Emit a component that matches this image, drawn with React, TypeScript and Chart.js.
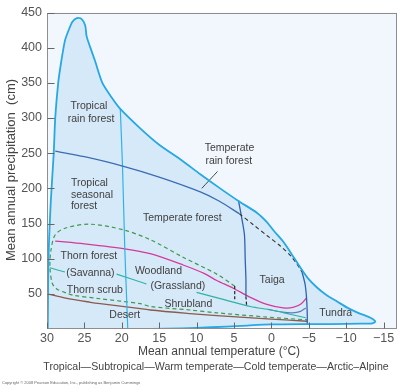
import React, { useEffect, useRef } from "react";
import { Chart, registerables } from "chart.js";

Chart.register(...registerables);

// ---------- axis ticks ----------
const xTickValues = [30, 25, 20, 15, 10, 5, 0, -5, -10, -15];
const yTickValues = [50, 100, 150, 200, 250, 300, 350, 400, 450];

// ---------- outer biome boundary (temperature °C, precipitation cm) ----------
const boundaryT = [29.9, 29.8, 29.5, 29.1, 28.9, 28.5, 28.1, 27.6, 27.1, 26.6, 26.0, 25.4, 24.9, 24.7, 24.2, 23.6, 22.6, 21.4, 20.2, 17.5, 15.0, 12.0, 9.5, 7.0, 4.4, 1.9, 0.6, -0.3, -1.6, -2.5, -3.9, -4.9, -6.1, -7.4, -8.8, -10.2, -11.6, -12.8, -13.6, -13.9, -13.5, -12.0, -8.0, -4.0, 0.0, 4.0, 8.0, 12.0, 16.0];
const boundaryP = [0, 100, 180, 250, 300, 350, 380, 410, 425, 437, 442, 441, 432, 416, 400, 382, 350, 330, 313, 285, 262, 240, 220, 201, 182, 165, 152, 140, 124, 110, 87, 72, 59, 48, 39, 30, 23, 18, 14, 10.5, 8, 7.5, 7, 7, 6.5, 4.5, 2.5, 1, 0];

// tropical rain forest / seasonal forest / temperate rain forest divide
const rainDivideT = [28.9, 25, 20, 15, 9.5, 7, 4.3];
const rainDivideP = [253, 245, 232, 216, 195, 182, 164];
// dashed continuation to taiga edge
const rainDashT = [4.3, 2.5, 0.6, -1.2, -2.5, -3.5, -4.1];
const rainDashP = [164, 149, 133, 118, 105, 91, 81];
// taiga / tundra divide
const taigaEdgeT = [-4.1, -4.5, -4.7, -4.8, -4.8];
const taigaEdgeP = [81, 64, 45, 22, 6];
// temperate forest / taiga divide
const taigaWestT = [4.4, 4.0, 3.6, 3.5, 3.4, 3.4];
const taigaWestP = [183, 160, 134, 100, 70, 46];
const taigaDashT = [3.4, 3.3];
const taigaDashP = [46, 32];
const woodDashT = [4.9, 4.9];
const woodDashP = [61, 40];
// tropical / subtropical divide
const tropicDivT = [20.2, 19.9, 19.6, 19.2];
const tropicDivP = [313, 230, 115, 0];
// forest / woodland (magenta)
const magentaT = [28.9, 25, 19.6, 16.2, 11.8, 9, 7.3, 5.1, 2.8, 0.6, -1.6, -3.0, -4.0, -4.7];
const magentaP = [125, 121, 114, 107, 91, 79, 69, 58, 45, 35, 30, 31, 36, 44];
// savanna / grassland envelope (green dashed)
const greenT = [4.9, 7.3, 11.8, 16.2, 19.8, 24.2, 27.4, 28.9, 29.5, 29.6, 29.3, 28.7, 27.4, 26.5, 22.9, 17.5, 16.2, 10.9, 7.3, 0.6, -4.8];
const greenP = [61, 78, 102, 127, 141, 149, 144, 134, 110, 87, 65, 57, 51, 48, 43, 36, 32, 27, 23, 17, 13];
// desert edge (brown)
const brownT = [30, 27.5, 24.2, 22.9, 17.5, 16.2, 10.9, 7.3, 0, -4.8];
const brownP = [50, 44, 38, 36, 29, 27, 22, 19, 14, 11];
// teal lines
const savannaLeadT = [29.6, 27.6];
const savannaLeadP = [87, 81];
const grassLeadT = [20.7, 16.7];
const grassLeadP = [78, 64];
const shrubEdgeT = [10, 6.2, 2.8, 0, -2.5, -4.6];
const shrubEdgeP = [52, 41.5, 32, 27, 21, 16];
// slate curve
const slateT = [0.5, -1.5, -2.8, -3.9, -4.6];
const slateP = [28, 24, 23, 25, 30];
// leader to temperate rain forest
const trfLeadT = [9.3, 7.2];
const trfLeadP = [200, 224];

// ---------- biome names ----------
const biomeNames = ["Tropical", "rain forest", "Tropical", "seasonal", "forest", "Temperate", "rain forest", "Temperate forest", "Thorn forest", "(Savanna)", "Thorn scrub", "Woodland", "(Grassland)", "Shrubland", "Desert", "Taiga", "Tundra"];
const biomeNameT = [24.4, 24.1, 26.8, 26.8, 26.8, 5.6, 5.7, 11.9, 24.4, 24.2, 23.6, 15.1, 12.5, 11.1, 19.6, -0.1, -8.6];
const biomeNameP = [317, 299, 208, 190, 175, 257, 239, 158, 103, 80, 56, 82, 61.5, 36, 19.6, 70, 22];
const biomeNameAlign = ["center", "center", "left", "left", "left", "center", "center", "center", "center", "center", "center", "center", "center", "center", "center", "center", "center"];

const FONT = '"Liberation Sans", Arial, Helvetica, sans-serif';

const pts = (t: number[], p: number[]) => t.map((x, i) => ({ x, y: p[i] }));

const line = (t: number[], p: number[], color: string, width: number, dash: number[] = [], tension = 0.3) => ({
  data: pts(t, p),
  showLine: true,
  borderColor: color,
  borderWidth: width,
  borderDash: dash,
  pointRadius: 0,
  tension,
  fill: false,
});

const decorPlugin = {
  id: "decor",
  beforeDraw(chart: any) {
    const { ctx, chartArea: a } = chart;
    ctx.save();
    ctx.fillStyle = "#f1f7fc";
    ctx.fillRect(a.left, a.top, a.right - a.left, a.bottom - a.top);
    ctx.restore();
  },
  beforeDatasetsDraw(chart: any) {
    const { ctx, chartArea: a, scales } = chart;
    const xs = scales.x, ys = scales.y;
    ctx.save();
    ctx.beginPath();
    ctx.rect(a.left, a.top, a.right - a.left, a.bottom - a.top);
    ctx.clip();
    ctx.beginPath();
    boundaryT.forEach((t, i) => {
      const px = xs.getPixelForValue(t), py = ys.getPixelForValue(boundaryP[i]);
      if (i === 0) ctx.moveTo(px, py); else ctx.lineTo(px, py);
    });
    ctx.closePath();
    ctx.fillStyle = "#d6e9f8";
    ctx.fill();
    ctx.restore();
  },
  afterDatasetsDraw(chart: any) {
    const { ctx, scales } = chart;
    ctx.save();
    ctx.fillStyle = "#404040";
    ctx.font = `10.5px ${FONT}`;
    ctx.textBaseline = "middle";
    biomeNames.forEach((name, i) => {
      ctx.textAlign = biomeNameAlign[i];
      ctx.fillText(name, scales.x.getPixelForValue(biomeNameT[i]), scales.y.getPixelForValue(biomeNameP[i]));
    });
    ctx.restore();
  },
  afterDraw(chart: any) {
    const { ctx, chartArea: a, scales } = chart;
    ctx.save();
    ctx.strokeStyle = "#8e8e8e";
    ctx.lineWidth = 1;
    const L = Math.round(a.left) + 0.5, R = Math.round(a.right) - 0.5, T = Math.round(a.top) + 0.5, B = Math.round(a.bottom) - 0.5;
    ctx.strokeRect(L, T, R - L, B - T);
    ctx.strokeStyle = "#666";
    ctx.beginPath();
    xTickValues.forEach((v) => {
      const x = Math.round(scales.x.getPixelForValue(v)) + 0.5;
      ctx.moveTo(x, B);
      ctx.lineTo(x, B - 6);
    });
    yTickValues.forEach((v) => {
      const y = Math.round(scales.y.getPixelForValue(v)) + 0.5;
      ctx.moveTo(L, y);
      ctx.lineTo(L + 7, y);
    });
    ctx.stroke();

    ctx.fillStyle = "#444";
    ctx.textAlign = "center";
    ctx.textBaseline = "middle";
    ctx.font = `12px ${FONT}`;
    ctx.fillText("Mean annual temperature (\u00B0C)", 219, 352);
    ctx.font = `10.6px ${FONT}`;
    ctx.fillText("Tropical\u2014Subtropical\u2014Warm temperate\u2014Cold temperate\u2014Arctic\u2013Alpine", 216, 367);
    ctx.save();
    ctx.translate(11, 170);
    ctx.rotate(-Math.PI / 2);
    ctx.font = `13px ${FONT}`;
    ctx.fillText("Mean annual precipitation  (cm)", 0, 0);
    ctx.restore();
    ctx.textAlign = "left";
    ctx.font = `4px ${FONT}`;
    ctx.fillStyle = "#666";
    ctx.fillText("Copyright \u00A9 2008 Pearson Education, Inc., publishing as Benjamin Cummings", 2, 383);
    ctx.restore();
  },
};

export default function App() {
  const ref = useRef<HTMLCanvasElement | null>(null);
  useEffect(() => {
    document.body.style.margin = "0";
    const canvas = ref.current;
    if (!canvas) return;
    const chart = new Chart(canvas, {
      type: "scatter",
      data: {
        datasets: [
          line(boundaryT, boundaryP, "#25a8e4", 1.8, [], 0.25),
          line(rainDivideT, rainDivideP, "#3a6db4", 1.3),
          line(rainDashT, rainDashP, "#333", 1.1, [4, 3]),
          line(taigaEdgeT, taigaEdgeP, "#2f62b0", 1.3),
          line(taigaWestT, taigaWestP, "#2f62b0", 1.3),
          line(taigaDashT, taigaDashP, "#222", 1.2, [3, 2]),
          line(woodDashT, woodDashP, "#222", 1.2, [3, 2]),
          line(tropicDivT, tropicDivP, "#2fb2ea", 1.2),
          line(magentaT, magentaP, "#d53a98", 1.3),
          line(greenT, greenP, "#3f9a4c", 1.2, [4, 3]),
          line(brownT, brownP, "#8a5b4e", 1.3),
          line(savannaLeadT, savannaLeadP, "#2eb2a6", 1.1),
          line(grassLeadT, grassLeadP, "#2eb2a6", 1.1),
          line(shrubEdgeT, shrubEdgeP, "#2eb2a6", 1.2),
          line(slateT, slateP, "#6a78b6", 1.2),
          line(trfLeadT, trfLeadP, "#333", 0.9),
        ],
      },
      options: {
        responsive: false,
        animation: false,
        layout: { padding: { top: 7, right: 3, left: 0, bottom: 0 } },
        plugins: { legend: { display: false }, tooltip: { enabled: false } },
        scales: {
          x: {
            type: "linear",
            reverse: true,
            min: -16.8,
            max: 30,
            grid: { display: false, drawTicks: false },
            border: { display: false },
            afterFit: (s: any) => { s.height = 60; },
            afterBuildTicks: (s: any) => { s.ticks = xTickValues.map((v) => ({ value: v })); },
            ticks: {
              padding: 2,
              color: "#555",
              font: { family: FONT, size: 12.5 },
              callback: (v: any) => (Number(v) < 0 ? "\u2212" + Math.abs(Number(v)) : String(v)),
            },
          },
          y: {
            type: "linear",
            min: 0,
            max: 450,
            grid: { display: false, drawTicks: false },
            border: { display: false },
            afterFit: (s: any) => { s.width = 47; },
            afterBuildTicks: (s: any) => { s.ticks = yTickValues.map((v) => ({ value: v })); },
            ticks: { padding: 5, color: "#555", font: { family: FONT, size: 12.5 } },
          },
        },
      },
      plugins: [decorPlugin],
    } as any);
    return () => chart.destroy();
  }, []);
  return <canvas ref={ref} width={400} height={389} style={{ display: "block" }} />;
}
